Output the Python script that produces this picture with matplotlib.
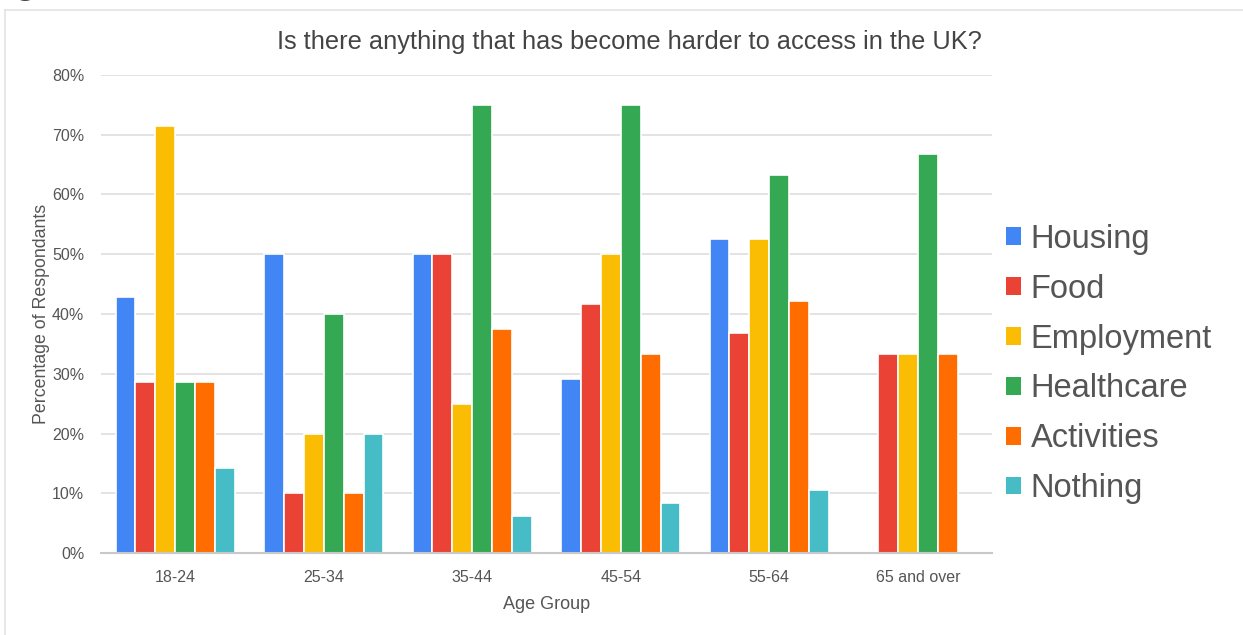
import matplotlib
matplotlib.use("Agg")
import matplotlib.pyplot as plt
import numpy as np
from matplotlib.patches import Patch
from matplotlib.lines import Line2D

plt.rcParams['font.family'] = ['Liberation Sans', 'DejaVu Sans']

age_groups = ["18-24", "25-34", "35-44", "45-54", "55-64", "65 and over"]
categories = ["Housing", "Food", "Employment", "Healthcare", "Activities", "Nothing"]

# share of respondants per age group (fractions)
housing = [0.429, 0.50, 0.50, 0.292, 0.526, 0.0]
food = [0.286, 0.10, 0.50, 0.417, 0.368, 0.333]
employment = [0.714, 0.20, 0.25, 0.50, 0.526, 0.333]
healthcare = [0.286, 0.40, 0.75, 0.75, 0.632, 0.667]
activities = [0.286, 0.10, 0.375, 0.333, 0.421, 0.333]
nothing = [0.143, 0.20, 0.0625, 0.083, 0.105, 0.0]

series = [housing, food, employment, healthcare, activities, nothing]
colors = ["#4285F4", "#EA4335", "#FBBC04", "#34A853", "#FF6D01", "#46BDC6"]

fig = plt.figure(figsize=(12.43, 6.35), dpi=100)
ax = fig.add_axes([101 / 1243, 1 - 553 / 635, 891 / 1243, 478 / 635])

x = np.arange(len(age_groups))
step = 0.134
for i, (vals, col) in enumerate(zip(series, colors)):
    ax.bar(x + (i - 2.5) * step, vals, width=step, color=col,
           edgecolor="white", linewidth=1.2, zorder=3)

ax.set_xlim(-0.5, len(age_groups) - 0.5)
ax.set_ylim(0, 0.8)
ax.set_yticks(np.arange(0, 0.81, 0.1))
ax.set_yticklabels([f"{int(round(v * 100))}%" for v in np.arange(0, 0.81, 0.1)])
ax.set_xticks(x)
ax.set_xticklabels(age_groups)
ax.tick_params(axis="both", length=0, labelsize=11.5, labelcolor="#555555")
ax.tick_params(axis="y", pad=12)
ax.tick_params(axis="x", pad=12)

ax.grid(axis="y", color="#dedede", linewidth=1.2, zorder=0)
for s in ["top", "right", "left"]:
    ax.spines[s].set_visible(False)
ax.spines["bottom"].set_color("#c8c8c8")
ax.spines["bottom"].set_linewidth(1.5)
ax.spines["bottom"].set_zorder(4)

ax.set_xlabel("Age Group", fontsize=13, color="#555555", labelpad=8)
ax.set_ylabel("Percentage of Respondants", fontsize=12.8, color="#555555", labelpad=1.5)

fig.text(629 / 1243, 1 - 42 / 635, "Is there anything that has become harder to access in the UK?",
         ha="center", va="center", fontsize=18.3, color="#444444")

handles = [Patch(facecolor=c, edgecolor="none") for c in colors]
leg = fig.legend(handles, categories, loc="center left", bbox_to_anchor=(993 / 1243, 1 - 364 / 635),
                 frameon=False, fontsize=23.5, handlelength=0.45, handleheight=0.45,
                 handletextpad=0.3, labelspacing=0.58, borderaxespad=0)
for t in leg.get_texts():
    t.set_color("#555555")

# page frame and the clipped heading above it
fig.add_artist(Line2D([5 / 1243, 5 / 1243], [0, 1 - 10 / 635], color="#e3e3e3", lw=1.2))
fig.add_artist(Line2D([5 / 1243, 1], [1 - 10 / 635, 1 - 10 / 635], color="#e3e3e3", lw=1.2))
fig.text(13 / 1243, 1 + 8 / 635, "g", fontsize=30, color="#444444", va="baseline")

fig.savefig("out.png", dpi=100)
